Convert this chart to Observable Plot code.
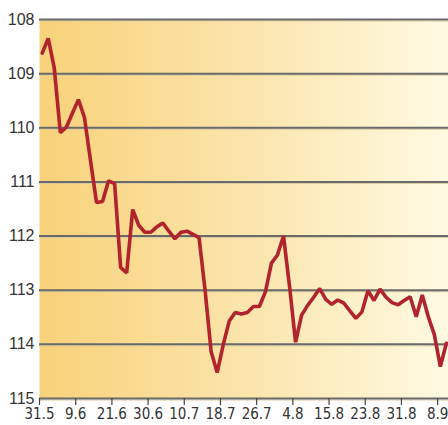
<!DOCTYPE html>
<html>
<head>
<meta charset="utf-8">
<script src="https://cdn.jsdelivr.net/npm/d3@7"></script>
<script src="https://cdn.jsdelivr.net/npm/@observablehq/plot@0.6"></script>
<style>
  html, body { margin: 0; padding: 0; background: #ffffff; }
  #chart { width: 448px; height: 425px; }
</style>
</head>
<body>
<div id="chart"></div>
<script>
// Daily values (inverted scale, 108 at top)
const values = [
  108.62, 108.35, 108.90, 110.09, 109.99, 109.73, 109.48, 109.81, 110.60, 111.38,
  111.36, 110.98, 111.03, 112.58, 112.68, 111.51, 111.80, 111.93, 111.93, 111.83,
  111.76, 111.91, 112.05, 111.93, 111.91, 111.97, 112.03, 113.00, 114.13, 114.52,
  114.01, 113.57, 113.41, 113.44, 113.41, 113.30, 113.30, 113.03, 112.50, 112.35,
  112.00, 112.93, 113.96, 113.46, 113.28, 113.13, 112.97, 113.17, 113.26, 113.18,
  113.24, 113.38, 113.52, 113.40, 113.01, 113.19, 112.98, 113.13, 113.23, 113.27,
  113.19, 113.12, 113.49, 113.09, 113.49, 113.82, 114.41, 113.98
];
// Date tick labels, one every 6 observations
const tickLabels = ["31.5", "9.6", "21.6", "30.6", "10.7", "18.7", "26.7", "4.8", "15.8", "23.8", "31.8", "8.9"];
const tickIndex = tickLabels.map((d, k) => k * 6);
const yTicks = [108, 109, 110, 111, 112, 113, 114, 115];

const data = values.map((v, i) => ({i: i + 0.45, v}));

const defs = () => {
  const g = d3.create("svg:defs");
  const lg = g.append("linearGradient").attr("id", "bgGrad")
    .attr("x1", "0").attr("x2", "1").attr("y1", "0").attr("y2", "0");
  lg.append("stop").attr("offset", "0%").attr("stop-color", "#f8d27a");
  lg.append("stop").attr("offset", "55%").attr("stop-color", "#fbe6b0");
  lg.append("stop").attr("offset", "100%").attr("stop-color", "#fffae2");
  return g.node();
};

const chart = Plot.plot({
  width: 448,
  height: 425,
  marginLeft: 39,
  marginRight: 0,
  marginTop: 19,
  marginBottom: 27,
  style: {fontFamily: "'Liberation Sans', Arial, sans-serif", color: "#333", background: "transparent"},
  x: {domain: [0, 67.8], axis: null},
  y: {domain: [108, 115], reverse: true, axis: null},
  marks: [
    defs,
    Plot.frame({fill: "url(#bgGrad)", stroke: "none"}),
    Plot.ruleY(yTicks, {stroke: "#d9c9a0", strokeWidth: 1, dy: 1.5}),
    Plot.ruleY(yTicks, {stroke: "#6a6a6a", strokeWidth: 2}),
    Plot.axisY({ticks: yTicks, label: null, tickSize: 0, tickPadding: 5, fontSize: 16, tickFormat: d => String(d)}),
    Plot.axisX({ticks: tickIndex, label: null, tickFormat: (d, k) => tickLabels[k], tickSize: 7, tickPadding: 3,
      fontSize: 15, stroke: "#444", strokeWidth: 1.2,
      fontFamily: "'Liberation Sans Narrow', 'DejaVu Sans Condensed', 'Liberation Sans', sans-serif"}),
    Plot.line(data, {x: "i", y: "v", stroke: "#b1242e", strokeWidth: 3.6, strokeLinejoin: "miter", curve: "linear"})
  ]
});
document.getElementById("chart").appendChild(chart);
</script>
</body>
</html>
